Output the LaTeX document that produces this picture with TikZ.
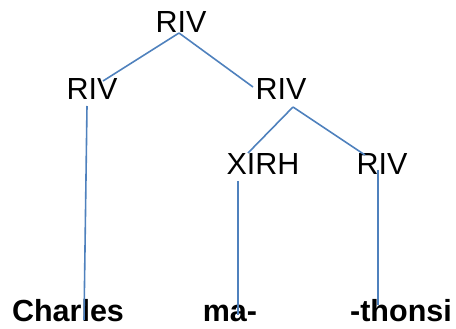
\documentclass[tikz,border=0pt]{standalone}
\usepackage{fontspec}
\setmainfont{Liberation Sans}
\begin{document}
\begin{tikzpicture}[x=1pt,y=-1pt,
  lbl/.style={inner sep=0pt,anchor=base,font=\fontsize{30.5}{34}\selectfont},
  word/.style={inner sep=0pt,anchor=base,font=\fontsize{30.5}{34}\selectfont\bfseries},
  edge/.style={draw={rgb,255:red,79;green,129;blue,189},line width=1.6pt}]
\useasboundingbox (0,0) rectangle (456,329);
% labels
\node[lbl] (top) at (181,33) {RIV};
\node[lbl] (l) at (92,100) {RIV};
\node[lbl] (r) at (281,100) {RIV};
\node[lbl] (x) at (263,175) {XIRH};
\node[lbl] (rr) at (382,175) {RIV};
\node[word] (w1) at (68,321) {Charles};
\node[word] (w2) at (230,321) {ma-};
\node[word] (w3) at (401,321) {-thonsi};
% connector ends
\coordinate (top-s) at (179,33);
\coordinate (l-n) at (103,81);
\coordinate (r-n) at (253,87);
\coordinate (l-s) at (87,106);
\coordinate (w1-n) at (84,320);
\coordinate (r-s) at (293,107);
\coordinate (x-n) at (248,153);
\coordinate (rr-n) at (365,155);
\coordinate (x-s) at (238,181);
\coordinate (w2-n) at (238,315);
\coordinate (rr-s) at (378,170);
\coordinate (w3-n) at (378,305);
% connectors
\draw[edge] (top-s) -- (l-n);
\draw[edge] (top-s) -- (r-n);
\draw[edge] (l-s) -- (w1-n);
\draw[edge] (r-s) -- (x-n);
\draw[edge] (r-s) -- (rr-n);
\draw[edge] (x-s) -- (w2-n);
\draw[edge] (rr-s) -- (w3-n);
\end{tikzpicture}
\end{document}
